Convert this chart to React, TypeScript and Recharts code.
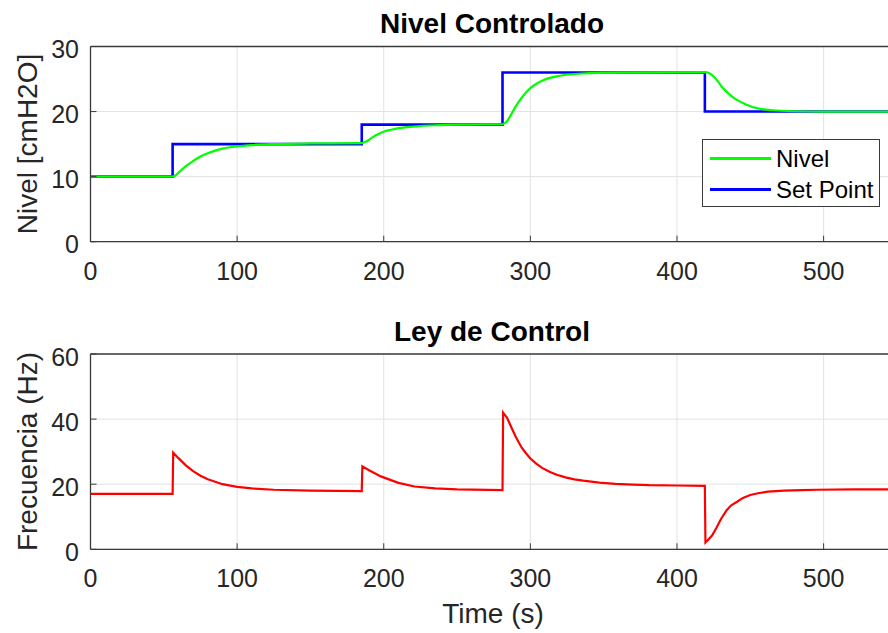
import React from "react";
import { LineChart, Line, XAxis, YAxis, CartesianGrid, Legend } from "recharts";

// Tank level control: controlled level vs set point, and the pump frequency (control law).

const FONT = "'Liberation Sans', Arial, Helvetica, sans-serif";
const AXIS_COLOR = "#3a3a3a";
const TEXT_COLOR = "#262626";
const GRID_COLOR = "#e2e2e2";

const T_MAX = 548;

const timeTicks = [0, 100, 200, 300, 400, 500];
const levelTicks = [0, 10, 20, 30];
const freqTicks = [0, 20, 40, 60];

// set point (held until the next time)
const spTime = [0, 56, 185, 281, 419, T_MAX];
const spLevel = [10, 15, 18, 26, 20, 20];

// measured level [cmH2O]
const levelTime = [
  0, 56, 58, 61, 65, 70, 75, 80, 85, 90, 100, 110, 125, 150, 185,
  188, 192, 196, 200, 205, 210, 220, 235, 260, 281,
  284, 287, 290, 295, 300, 305, 312, 320, 335, 360, 419,
  422, 425, 428, 431, 435, 440, 447, 455, 465, 480, 500, T_MAX,
];
const levelValue = [
  10, 10, 10.2, 10.8, 11.6, 12.4, 13.1, 13.6, 14.0, 14.3, 14.65, 14.85, 15.0, 15.1, 15.15,
  15.4, 16.0, 16.5, 16.9, 17.2, 17.45, 17.7, 17.9, 18.0, 18.05,
  18.5, 19.6, 20.8, 22.4, 23.6, 24.4, 25.1, 25.5, 25.85, 26.0, 26.05,
  25.9, 25.4, 24.6, 23.7, 22.8, 21.9, 21.1, 20.5, 20.2, 20.05, 20.0, 20.0,
];

// pump frequency [Hz]
const freqTime = [
  0, 56, 56.4, 60, 65, 70, 75, 80, 90, 100, 110, 125, 150, 185,
  185.4, 190, 198, 210, 221, 235, 250, 281,
  281.4, 284, 287, 290, 294, 297, 300, 304, 308, 313, 318, 324, 330, 336, 347, 358, 370, 381, 400, 419,
  419.4, 421, 424, 427, 430, 434, 437, 441, 445, 450, 456, 462, 473, 485, 496, 520, T_MAX,
];
const freqValue = [
  17.0, 17.0, 29.7, 28.0, 25.8, 24.0, 22.6, 21.5, 20.0, 19.2, 18.7, 18.3, 18.0, 17.9,
  25.5, 24.3, 22.4, 20.4, 19.3, 18.7, 18.4, 18.2,
  42.0, 40.5, 37.5, 34.6, 31.3, 29.5, 27.9, 26.3, 25.0, 23.8, 22.9, 22.1, 21.5, 21.1, 20.5, 20.1, 19.9, 19.7, 19.6, 19.5,
  2.1, 2.8, 4.3, 6.7, 9.3, 12.1, 13.5, 14.6, 15.8, 16.7, 17.3, 17.7, 18.0, 18.2, 18.3, 18.4, 18.4,
];

const legendOrder = ["Nivel", "Set Point"];

const spData = spTime.map((t, i) => ({ t, v: spLevel[i] }));
const levelData = levelTime.map((t, i) => ({ t, v: levelValue[i] }));
const freqData = freqTime.map((t, i) => ({ t, v: freqValue[i] }));

const tickText = {
  fontFamily: FONT,
  fontSize: 25,
  fill: TEXT_COLOR,
};

// MATLAB-style inward ticks with labels outside the box
function BottomTick(props: any) {
  const { x, y, payload } = props;
  return (
    <g>
      <line x1={x} x2={x} y1={y} y2={y - 6} stroke={AXIS_COLOR} strokeWidth={1} />
      <text x={x} y={y + 38} textAnchor="middle" {...tickText}>
        {payload.value}
      </text>
    </g>
  );
}

function TopTick(props: any) {
  const { x, y } = props;
  return <line x1={x} x2={x} y1={y} y2={y + 6} stroke={AXIS_COLOR} strokeWidth={1} />;
}

function LeftTick(props: any) {
  const { x, y, payload } = props;
  return (
    <g>
      <line x1={x} x2={x + 6} y1={y} y2={y} stroke={AXIS_COLOR} strokeWidth={1} />
      <text x={x - 11.5} y={y + 11.5} textAnchor="end" {...tickText}>
        {payload.value}
      </text>
    </g>
  );
}

function RightTick(props: any) {
  const { x, y } = props;
  return <line x1={x} x2={x - 6} y1={y} y2={y} stroke={AXIS_COLOR} strokeWidth={1} />;
}

function BoxLegend(props: any) {
  const items = [...(props.payload ?? [])].sort(
    (a: any, b: any) => legendOrder.indexOf(a.value) - legendOrder.indexOf(b.value)
  );
  return (
    <div
      style={{
        width: 178,
        height: 68,
        boxSizing: "border-box",
        border: `1px solid ${AXIS_COLOR}`,
        background: "#fff",
        padding: "3px 0 0 7px",
      }}
    >
      {items.map((item: any) => (
        <div key={item.value} style={{ display: "flex", alignItems: "center", height: 31 }}>
          <span style={{ display: "inline-block", width: 61, height: 2.5, background: item.color }} />
          <span style={{ marginLeft: 5, fontFamily: FONT, fontSize: 24, color: "#000" }}>
            {item.value}
          </span>
        </div>
      ))}
    </div>
  );
}

function Frame({ yTicks, yMax }: { yTicks: number[]; yMax: number }) {
  return (
    <>
      <CartesianGrid stroke={GRID_COLOR} strokeWidth={1} />
      <XAxis
        dataKey="t"
        type="number"
        domain={[0, T_MAX]}
        ticks={timeTicks}
        allowDataOverflow
        tickSize={0}
        tickMargin={0}
        height={30}
        axisLine={{ stroke: AXIS_COLOR, strokeWidth: 1.3 }}
        tickLine={false}
        tick={BottomTick}
      />
      <XAxis
        xAxisId="top"
        orientation="top"
        type="number"
        domain={[0, T_MAX]}
        ticks={timeTicks}
        allowDataOverflow
        tickSize={0}
        tickMargin={0}
        height={2}
        axisLine={{ stroke: AXIS_COLOR, strokeWidth: 1.3 }}
        tickLine={false}
        tick={TopTick}
      />
      <YAxis
        type="number"
        domain={[0, yMax]}
        ticks={yTicks}
        allowDataOverflow
        tickSize={0}
        tickMargin={0}
        width={80}
        axisLine={{ stroke: AXIS_COLOR, strokeWidth: 1.3 }}
        tickLine={false}
        tick={LeftTick}
      />
      <YAxis
        yAxisId="right"
        orientation="right"
        type="number"
        domain={[0, yMax]}
        ticks={yTicks}
        allowDataOverflow
        tickSize={0}
        tickMargin={0}
        width={2}
        axisLine={{ stroke: AXIS_COLOR, strokeWidth: 1.3 }}
        tickLine={false}
        tick={RightTick}
      />
    </>
  );
}

export default function App() {
  const textStyle = { fontFamily: FONT, fill: TEXT_COLOR };
  return (
    <div
      style={{
        position: "absolute",
        left: 0,
        top: 0,
        width: 888,
        height: 633,
        overflow: "hidden",
        background: "#fff",
      }}
    >
      <div style={{ position: "absolute", left: 0, top: 0 }}>
        <LineChart width={900} height={300} margin={{ top: 44.5, right: 4, bottom: 28.3, left: 10.5 }}>
          {Frame({ yTicks: levelTicks, yMax: 30 })}
          <Line
            data={spData}
            dataKey="v"
            name="Set Point"
            type="stepAfter"
            stroke="#0000ff"
            strokeWidth={2.6}
            dot={false}
            isAnimationActive={false}
          />
          <Line
            data={levelData}
            dataKey="v"
            name="Nivel"
            type="monotone"
            stroke="#00ff00"
            strokeWidth={2.2}
            dot={false}
            isAnimationActive={false}
          />
          <Legend
            layout="vertical"
            align="center"
            verticalAlign="middle"
            wrapperStyle={{ left: 702, top: 139, width: 178 }}
            content={BoxLegend}
          />
        </LineChart>
      </div>

      <div style={{ position: "absolute", left: 0, top: 290 }}>
        <LineChart width={900} height={343} margin={{ top: 62, right: 4, bottom: 53.7, left: 10.5 }}>
          {Frame({ yTicks: freqTicks, yMax: 60 })}
          <Line
            data={freqData}
            dataKey="v"
            name="Ley de Control"
            type="linear"
            stroke="#ff0000"
            strokeWidth={2.2}
            dot={false}
            isAnimationActive={false}
          />
        </LineChart>
      </div>

      <svg
        width={888}
        height={633}
        style={{ position: "absolute", left: 0, top: 0, pointerEvents: "none" }}
      >
        <text x={492} y={33} textAnchor="middle" fontSize={28} fontWeight="bold" fontFamily={FONT} fill="#000">
          Nivel Controlado
        </text>
        <text x={492} y={341} textAnchor="middle" fontSize={28} fontWeight="bold" fontFamily={FONT} fill="#000">
          Ley de Control
        </text>
        <text
          transform="translate(37,144) rotate(-90)"
          textAnchor="middle"
          fontSize={28}
          {...textStyle}
        >
          Nivel [cmH2O]
        </text>
        <text
          transform="translate(37,451.5) rotate(-90)"
          textAnchor="middle"
          fontSize={28}
          {...textStyle}
        >
          Frecuencia (Hz)
        </text>
        <text x={493} y={623} textAnchor="middle" fontSize={28} {...textStyle}>
          Time (s)
        </text>
      </svg>
    </div>
  );
}
